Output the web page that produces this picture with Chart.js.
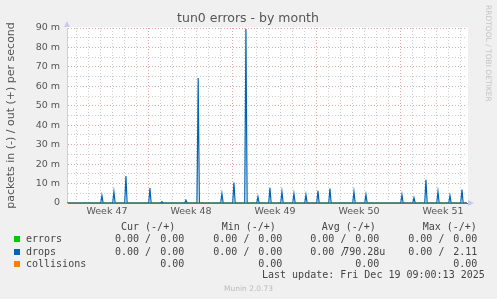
<!DOCTYPE html>
<html>
<head>
<meta charset="utf-8">
<title>tun0 errors - by month</title>
<script src="https://cdn.jsdelivr.net/npm/chart.js@4.4.1/dist/chart.umd.min.js"></script>
<style>
  html, body { margin: 0; padding: 0; background: #f0f0f0; }
  #wrap { position: relative; width: 497px; height: 299px; overflow: hidden; }
  canvas { position: absolute; left: 0; top: 0; }
  .t { position: absolute; white-space: pre; font: 10px 'DejaVu Sans Mono', monospace; color: #444; line-height: 12px; }
  .sq { position: absolute; width: 6px; height: 6px; }
  .munin { position: absolute; left: 0; width: 497px; text-align: center; font: 7.5px 'DejaVu Sans', sans-serif; color: #bbb; }
</style>
</head>
<body>
<div id="wrap">
  <canvas id="chart" width="497" height="299"></canvas>
  <div id="legend"></div>
</div>
<script>
// x values are days, counted from Monday of week 48
const X_MIN = -6.83;
const X_MAX = 26.5;
const weekStarts = [-7, 0, 7, 14, 21];
const weekLabels = ['Week 47', 'Week 48', 'Week 49', 'Week 50', 'Week 51'];

// drops out (+), milli packets per second; one peak a day, around 02:00
const dropDays = [-3.92, -2.92, -1.92, 0.08, 1.08, 3.08, 4.1, 6.08, 7.08, 8.08,
  9.08, 10.08, 11.08, 12.08, 13.08, 14.08, 15.08, 17.08, 18.08,
  21.08, 22.08, 23.08, 24.08, 25.08, 26.08];
const dropsOut = [3.8, 5.7, 13.9, 7.7, 0.7, 1.5, 64.3, 4.8, 10.5, 89.5,
  3.2, 7.8, 5.8, 4.8, 4.2, 6.3, 7.4, 5.8, 4.3,
  4.3, 2.7, 12.0, 5.8, 3.8, 6.9];

const seriesNames = ['errors', 'drops', 'collisions'];
const seriesColors = ['#00cc00', '#0066b3', '#ff8000'];

// legend stats as [in, out]; collisions has only one value
const curStats = [['0.00', '0.00'], ['0.00', '0.00'], [null, '0.00']];
const minStats = [['0.00', '0.00'], ['0.00', '0.00'], [null, '0.00']];
const avgStats = [['0.00', '0.00'], ['0.00', '790.28u'], [null, '0.00']];
const maxStats = [['0.00', '0.00'], ['0.00', '2.11'], [null, '0.00']];
const lastUpdate = 'Last update: Fri Dec 19 09:00:13 2025';

const dropsData = [{ x: X_MIN, y: 0 }];
dropDays.forEach((d, i) => {
  dropsData.push({ x: d - 0.1, y: 0 }, { x: d, y: dropsOut[i] }, { x: d + 0.1, y: 0 });
});
dropsData.push({ x: X_MAX, y: 0 });

const weekCenters = weekStarts.map((w) => w + 3.5);

const muninLook = {
  id: 'muninLook',
  beforeDraw(chart) {
    const { ctx, chartArea: a } = chart;
    ctx.save();
    ctx.fillStyle = '#f0f0f0';
    ctx.fillRect(0, 0, chart.width, chart.height);
    ctx.fillStyle = '#ffffff';
    ctx.fillRect(a.left, a.top - 1, a.right - a.left + 1, a.bottom - a.top + 1);
    ctx.restore();
  },
  afterDraw(chart) {
    const { ctx, chartArea: a } = chart;
    ctx.save();
    // axis arrows
    ctx.fillStyle = '#c8c8f4';
    ctx.beginPath();
    ctx.moveTo(a.left - 3, a.top - 1);
    ctx.lineTo(a.left + 3, a.top - 1);
    ctx.lineTo(a.left, a.top - 7);
    ctx.fill();
    ctx.beginPath();
    ctx.moveTo(a.right + 1, a.bottom - 3);
    ctx.lineTo(a.right + 1, a.bottom + 3);
    ctx.lineTo(a.right + 7, a.bottom);
    ctx.fill();
    // title
    ctx.fillStyle = '#555';
    ctx.font = '12.5px "DejaVu Sans"';
    ctx.textAlign = 'center';
    ctx.textBaseline = 'middle';
    ctx.fillText('tun0 errors - by month', 248, 19);
    // side credit
    ctx.translate(488, 5);
    ctx.rotate(Math.PI / 2);
    ctx.fillStyle = '#c4c4c4';
    ctx.font = '7.5px "DejaVu Sans"';
    ctx.textAlign = 'left';
    ctx.fillText('RRDTOOL / TOBI OETIKER', 0, 0);
    ctx.restore();
  },
};

// errors and collisions stay at zero; higher order is painted first
const datasets = [
  { label: seriesNames[0], data: [{ x: X_MIN, y: 0 }, { x: X_MAX, y: 0 }], borderColor: seriesColors[0], order: 3 },
  { label: seriesNames[2], data: [{ x: X_MIN, y: 0 }, { x: X_MAX, y: 0 }], borderColor: seriesColors[2], order: 2 },
  { label: seriesNames[1], data: dropsData, borderColor: seriesColors[1], order: 1 },
].map((d) => ({ ...d, borderWidth: 1.2, pointRadius: 0, tension: 0, fill: false }));

new Chart(document.getElementById('chart'), {
  type: 'line',
  data: { datasets },
  options: {
    responsive: false,
    animation: false,
    layout: { padding: { top: 28, right: 30, left: 0, bottom: 0 } },
    plugins: { legend: { display: false }, title: { display: false }, tooltip: { enabled: false } },
    scales: {
      x: {
        type: 'linear',
        min: X_MIN,
        max: X_MAX,
        afterFit: (scale) => { scale.height = 96; },
        afterBuildTicks: (scale) => {
          const vals = [];
          for (let d = Math.ceil(X_MIN); d <= Math.floor(X_MAX); d++) vals.push(d);
          weekCenters.forEach((c) => { if (c > X_MIN && c < X_MAX) vals.push(c); });
          scale.ticks = vals.sort((p, q) => p - q).map((v) => ({ value: v }));
        },
        ticks: {
          autoSkip: false,
          maxRotation: 0,
          padding: 3,
          color: '#555',
          font: { family: 'DejaVu Sans', size: 9.5 },
          callback: (v) => {
            const i = weekCenters.indexOf(v);
            return i >= 0 ? weekLabels[i] : '';
          },
        },
        grid: {
          drawTicks: false,
          lineWidth: 1,
          color: (ctx) => {
            const v = ctx.tick && ctx.tick.value;
            if (weekCenters.includes(v)) return 'rgba(0,0,0,0)';
            return v % 7 === 0 ? '#e4a8a8' : '#cfcfcf';
          },
        },
        border: { display: true, color: '#6a6a9c', width: 1, dash: [1, 2] },
      },
      y: {
        min: 0,
        max: 90,
        afterFit: (scale) => { scale.width = 67; },
        ticks: {
          stepSize: 5,
          autoSkip: false,
          padding: 7,
          color: '#555',
          font: { family: 'DejaVu Sans', size: 9.5 },
          callback: (v) => (v % 10 === 0 ? (v === 0 ? '0' : v + ' m') : ''),
        },
        grid: {
          drawTicks: false,
          lineWidth: 1,
          color: (ctx) => (ctx.tick && ctx.tick.value % 10 === 0 ? '#e4a8a8' : '#cfcfcf'),
        },
        border: { display: true, color: '#ccccf4', width: 1, dash: [1, 2] },
        title: {
          display: true,
          text: 'packets in (-) / out (+) per second',
          color: '#555',
          font: { family: 'DejaVu Sans', size: 11 },
          padding: { top: 5, bottom: 0 },
        },
      },
    },
  },
  plugins: [muninLook],
});

// legend block below the plot
const legend = document.getElementById('legend');
const add = (cls, text, style) => {
  const el = document.createElement('div');
  el.className = cls;
  el.textContent = text;
  Object.assign(el.style, style);
  legend.appendChild(el);
  return el;
};
const columns = [
  { head: 'Cur (-/+)', headX: 121, negX: 115, end: 190.3, stats: curStats },
  { head: 'Min (-/+)', headX: 221.7, negX: 213.3, end: 288.3, stats: minStats },
  { head: 'Avg (-/+)', headX: 321.7, negX: 310.3, end: 385.3, stats: avgStats },
  { head: 'Max (-/+)', headX: 422.7, negX: 408.3, end: 483.3, stats: maxStats },
];
const rowTops = [233.3, 245.7, 257.7];
columns.forEach((c) => add('t', c.head, { left: c.headX + 'px', top: '221.3px' }));
seriesNames.forEach((name, r) => {
  const top = rowTops[r];
  add('sq', '', { left: '14px', top: (top + 3) + 'px', background: seriesColors[r] });
  add('t', name, { left: '26px', top: top + 'px' });
  columns.forEach((c) => {
    const [neg, pos] = c.stats[r];
    if (neg !== null) add('t', neg + ' /', { left: c.negX + 'px', top: top + 'px' });
    const shown = /[0-9]$/.test(pos) ? pos + ' ' : pos;
    add('t', shown, { right: (497 - c.end) + 'px', top: top + 'px' });
  });
});
add('t', lastUpdate, { left: '262px', top: '269.3px' });
add('munin', 'Munin 2.0.73', { top: '283.5px' });
</script>
</body>
</html>
